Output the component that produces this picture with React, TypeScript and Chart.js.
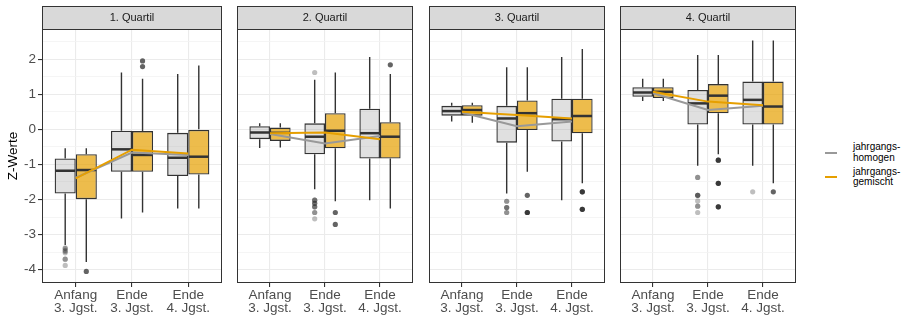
import React, { useEffect, useRef } from 'react';
import { Chart, registerables } from 'chart.js';

Chart.register(...registerables);

// ---------------- DATA ----------------
const facetTitles = ['1. Quartil', '2. Quartil', '3. Quartil', '4. Quartil'];
const timeLabels = [
  ['Anfang', '3. Jgst.'],
  ['Ende', '3. Jgst.'],
  ['Ende', '4. Jgst.'],
];
const timePositions = [1, 2, 3];
const yMajorTicks = [-4, -3, -2, -1, 0, 1, 2];
const yMinorTicks = [-3.5, -2.5, -1.5, -0.5, 0.5, 1.5, 2.5];
const seriesNames = ['jahrgangs-\nhomogen', 'jahrgangs-\ngemischt'];

// [lower whisker, Q1, median, Q3, upper whisker] per time point, per quartile facet
const homogenBoxes = [
  [[-3.3, -1.83, -1.18, -0.83, -0.54], [-2.54, -1.21, -0.57, -0.04, 1.62], [-2.26, -1.33, -0.81, -0.1, 1.58]],
  [[-0.53, -0.28, -0.09, 0.09, 0.17], [-1.71, -0.71, -0.21, 0.17, 1.41], [-2.02, -0.83, -0.11, 0.59, 2.06]],
  [[0.22, 0.39, 0.52, 0.67, 0.76], [-1.83, -0.38, 0.31, 0.67, 1.77], [-2.02, -0.35, 0.29, 0.87, 2.06]],
  [[0.81, 0.93, 1.05, 1.2, 1.44], [-1.04, 0.14, 0.74, 1.12, 2.12], [-1.04, 0.14, 0.84, 1.36, 2.53]],
];
const gemischtBoxes = [
  [[-3.78, -1.99, -1.16, -0.71, -0.54], [-2.37, -1.21, -0.73, -0.05, 1.44], [-2.26, -1.29, -0.78, 0.0, 1.82]],
  [[-0.52, -0.33, -0.1, 0.05, 0.17], [-2.05, -0.54, -0.04, 0.46, 1.62], [-2.26, -0.83, -0.21, 0.2, 1.58]],
  [[0.19, 0.39, 0.55, 0.69, 0.76], [-1.21, -0.02, 0.46, 0.82, 1.77], [-1.54, -0.11, 0.38, 0.87, 2.29]],
  [[0.81, 0.89, 1.07, 1.2, 1.44], [-0.71, 0.46, 0.96, 1.29, 2.12], [-1.54, 0.14, 0.65, 1.36, 2.53]],
];

// outliers per time point (repeated values overlap)
const homogenOutliers = [
  [[-3.38, -3.4, -3.45, -3.48, -3.52, -3.7, -3.7, -3.88], [], []],
  [[], [1.62, -2.02, -2.02, -2.02, -2.11, -2.11, -2.11, -2.21, -2.21, -2.21, -2.37, -2.37, -2.55], []],
  [[], [-2.05, -2.05, -2.23, -2.23, -2.23, -2.37, -2.37], []],
  [[], [-1.37, -1.37, -1.88, -1.88, -1.88, -1.88, -2.04, -2.19, -2.19, -2.37], [-1.78]],
];
const gemischtOutliers = [
  [[-4.05], [1.95, 1.79], []],
  [[], [-2.37, -2.71], [1.84]],
  [[], [-1.88, -2.37, -2.37], [-1.78, -1.78, -2.28, -2.28]],
  [[], [-0.88, -0.88, -1.54, -1.54, -2.21, -2.21], [-1.78]],
];

// group means (lines)
const homogenMeans = [
  [-1.38, -0.66, -0.73],
  [-0.13, -0.4, -0.19],
  [0.48, 0.09, 0.22],
  [1.03, 0.55, 0.67],
];
const gemischtMeans = [
  [-1.4, -0.58, -0.69],
  [-0.11, -0.09, -0.28],
  [0.5, 0.41, 0.31],
  [1.07, 0.79, 0.69],
];

// ---------------- STYLE / LAYOUT ----------------
const FONT = '"Liberation Sans", Arial, Helvetica, sans-serif';
const PANEL_X = [42, 233, 425, 616];
const PANEL_W = 184;
const PANEL_TOP = 29;
const STRIP_TOP = 6;
const Y_MIN = -4.38;
const Y_MAX = 2.86;
const X_MIN = 0.4;
const X_MAX = 3.6;
const CAT_PCT = 0.75;
const DODGE = CAT_PCT / 4;
const GREY_FILL = 'rgba(153,153,153,0.3)';
const ORANGE_FILL = 'rgba(230,159,0,0.7)';
const GREY_LINE = '#999999';
const ORANGE_LINE = '#E69F00';
const DARK = '#333333';

const isMajor = (v: number) => Math.abs(v - Math.round(v)) < 1e-9;

const boxPlugin = {
  id: 'boxplotParts',
  beforeDatasetDraw(chart: any, args: any) {
    const ds = chart.data.datasets[args.index];
    if (!ds.boxStats) return;
    const y = chart.scales.y;
    const ctx = chart.ctx;
    ctx.save();
    ctx.strokeStyle = DARK;
    ctx.lineWidth = 1.4;
    args.meta.data.forEach((el: any, j: number) => {
      const [lo, q1, , q3, hi] = ds.boxStats[j];
      const { x } = el.getProps(['x'], true);
      ctx.beginPath();
      ctx.moveTo(x, y.getPixelForValue(lo));
      ctx.lineTo(x, y.getPixelForValue(q1));
      ctx.moveTo(x, y.getPixelForValue(q3));
      ctx.lineTo(x, y.getPixelForValue(hi));
      ctx.stroke();
    });
    ctx.restore();
  },
  afterDatasetDraw(chart: any, args: any) {
    const ds = chart.data.datasets[args.index];
    if (!ds.boxStats) return;
    const y = chart.scales.y;
    const ctx = chart.ctx;
    ctx.save();
    ctx.strokeStyle = DARK;
    ctx.lineWidth = 2.5;
    args.meta.data.forEach((el: any, j: number) => {
      const med = ds.boxStats[j][2];
      const { x, width } = el.getProps(['x', 'width'], true);
      const py = y.getPixelForValue(med);
      ctx.beginPath();
      ctx.moveTo(x - width / 2 + 0.6, py);
      ctx.lineTo(x + width / 2 - 0.6, py);
      ctx.stroke();
    });
    ctx.restore();
  },
  afterDraw(chart: any) {
    const { ctx, chartArea: a } = chart;
    const title = chart.options.plugins.boxplotParts.title;
    ctx.save();
    // strip
    ctx.fillStyle = '#d9d9d9';
    ctx.fillRect(a.left, STRIP_TOP, a.right - a.left, a.top - STRIP_TOP);
    ctx.strokeStyle = DARK;
    ctx.lineWidth = 1;
    ctx.strokeRect(a.left + 0.5, STRIP_TOP + 0.5, a.right - a.left - 1, a.top - STRIP_TOP);
    ctx.fillStyle = '#1a1a1a';
    ctx.font = `11px ${FONT}`;
    ctx.textAlign = 'center';
    ctx.textBaseline = 'middle';
    ctx.fillText(title, (a.left + a.right) / 2, (STRIP_TOP + a.top) / 2 + 0.5);
    // panel border
    ctx.strokeRect(a.left + 0.5, a.top + 0.5, a.right - a.left - 1, a.bottom - a.top - 1);
    ctx.restore();
  },
};

function buildConfig(idx: number): any {
  const showY = idx === 0;
  const boxData = (boxes: number[][]) =>
    boxes.map((b, t) => ({ x: timePositions[t], y: [b[1], b[3]] }));
  const outlierData = (outs: number[][], side: number) =>
    outs.flatMap((vals, t) => vals.map((v) => ({ x: timePositions[t] + side * DODGE, y: v })));
  const meanData = (m: number[]) => m.map((v, t) => ({ x: timePositions[t], y: v }));

  return {
    type: 'bar',
    data: {
      datasets: [
        {
          type: 'line', label: seriesNames[1], data: meanData(gemischtMeans[idx]),
          borderColor: ORANGE_LINE, borderWidth: 2, pointRadius: 0, order: 0, tension: 0,
        },
        {
          type: 'line', label: seriesNames[0], data: meanData(homogenMeans[idx]),
          borderColor: GREY_LINE, borderWidth: 2, pointRadius: 0, order: 1, tension: 0,
        },
        {
          type: 'scatter', data: outlierData(homogenOutliers[idx], -1),
          pointRadius: 2.6, pointBackgroundColor: 'rgba(40,40,40,0.3)', pointBorderWidth: 0, order: 2,
        },
        {
          type: 'scatter', data: outlierData(gemischtOutliers[idx], 1),
          pointRadius: 2.6, pointBackgroundColor: 'rgba(40,40,40,0.72)', pointBorderWidth: 0, order: 2,
        },
        {
          type: 'bar', data: boxData(homogenBoxes[idx]), boxStats: homogenBoxes[idx],
          backgroundColor: GREY_FILL, borderColor: DARK, borderWidth: 1.3, borderSkipped: false,
          categoryPercentage: CAT_PCT, barPercentage: 1, order: 3,
        },
        {
          type: 'bar', data: boxData(gemischtBoxes[idx]), boxStats: gemischtBoxes[idx],
          backgroundColor: ORANGE_FILL, borderColor: DARK, borderWidth: 1.3, borderSkipped: false,
          categoryPercentage: CAT_PCT, barPercentage: 1, order: 3,
        },
      ],
    },
    options: {
      animation: false,
      responsive: false,
      devicePixelRatio: 1,
      events: [],
      layout: { padding: { top: PANEL_TOP, left: 0, right: 0, bottom: 0 } },
      plugins: {
        legend: { display: false },
        tooltip: { enabled: false },
        boxplotParts: { title: facetTitles[idx] },
      },
      scales: {
        x: {
          type: 'linear', min: X_MIN, max: X_MAX, offset: false,
          afterBuildTicks: (s: any) => { s.ticks = timePositions.map((v) => ({ value: v })); },
          afterFit: (s: any) => { s.height = 37; },
          border: { display: false },
          grid: {
            offset: false, color: '#ebebeb', lineWidth: 1.1, drawTicks: true,
            tickLength: 4, tickColor: DARK, tickWidth: 1.1,
          },
          ticks: {
            autoSkip: false, maxRotation: 0, minRotation: 0, padding: 2, color: '#4d4d4d',
            font: { family: FONT, size: 13.5, lineHeight: 0.94 },
            callback: (v: number) => timeLabels[timePositions.indexOf(v)] ?? '',
          },
        },
        y: {
          type: 'linear', min: Y_MIN, max: Y_MAX,
          afterBuildTicks: (s: any) => {
            s.ticks = [...yMajorTicks, ...yMinorTicks].sort((a, b) => a - b).map((v) => ({ value: v }));
          },
          afterFit: (s: any) => { s.width = showY ? PANEL_X[0] : 0; },
          border: { display: false },
          title: {
            display: showY, text: 'Z-Werte', color: '#000000',
            font: { family: FONT, size: 13.5 }, padding: { top: 5.5, bottom: 0 },
          },
          grid: {
            color: (c: any) => (isMajor(c.tick?.value ?? 0) ? '#ebebeb' : '#f3f3f3'),
            lineWidth: (c: any) => (isMajor(c.tick?.value ?? 0) ? 1.1 : 0.8),
            drawTicks: showY, tickLength: 4,
            tickColor: (c: any) => (isMajor(c.tick?.value ?? 0) ? DARK : 'rgba(0,0,0,0)'),
            tickWidth: 1.1,
          },
          ticks: {
            display: showY, autoSkip: false, padding: 2, color: '#4d4d4d',
            font: { family: FONT, size: 13.5 },
            callback: (v: number) => (isMajor(v) ? String(v) : ''),
          },
        },
      },
    },
    plugins: [boxPlugin],
  };
}

function Panel({ idx }: { idx: number }) {
  const ref = useRef<HTMLCanvasElement>(null);
  useEffect(() => {
    const chart = new Chart(ref.current as HTMLCanvasElement, buildConfig(idx));
    return () => chart.destroy();
  }, [idx]);
  const left = idx === 0 ? 0 : PANEL_X[idx];
  const width = idx === 0 ? PANEL_X[0] + PANEL_W : PANEL_W;
  return (
    <canvas
      ref={ref}
      width={width}
      height={320}
      style={{ position: 'absolute', left, top: 0, width, height: 320 }}
    />
  );
}

function Legend() {
  const keys = [GREY_LINE, ORANGE_LINE];
  return (
    <>
      {seriesNames.map((name, i) => (
        <React.Fragment key={name}>
          <div
            style={{
              position: 'absolute', left: 825, top: 151.7 + i * 24.6, width: 12, height: 2,
              background: keys[i],
            }}
          />
          <div
            style={{
              position: 'absolute', left: 853, top: 142.2 + i * 24.6, fontFamily: FONT,
              fontSize: 10, lineHeight: '10.5px', color: '#000', whiteSpace: 'pre',
            }}
          >
            {name}
          </div>
        </React.Fragment>
      ))}
    </>
  );
}

export default function App() {
  return (
    <div
      style={{
        position: 'absolute', left: 0, top: 0, width: 912, height: 320,
        background: '#ffffff', overflow: 'hidden',
      }}
    >
      {facetTitles.map((_, i) => (
        <Panel key={i} idx={i} />
      ))}
      <Legend />
    </div>
  );
}
